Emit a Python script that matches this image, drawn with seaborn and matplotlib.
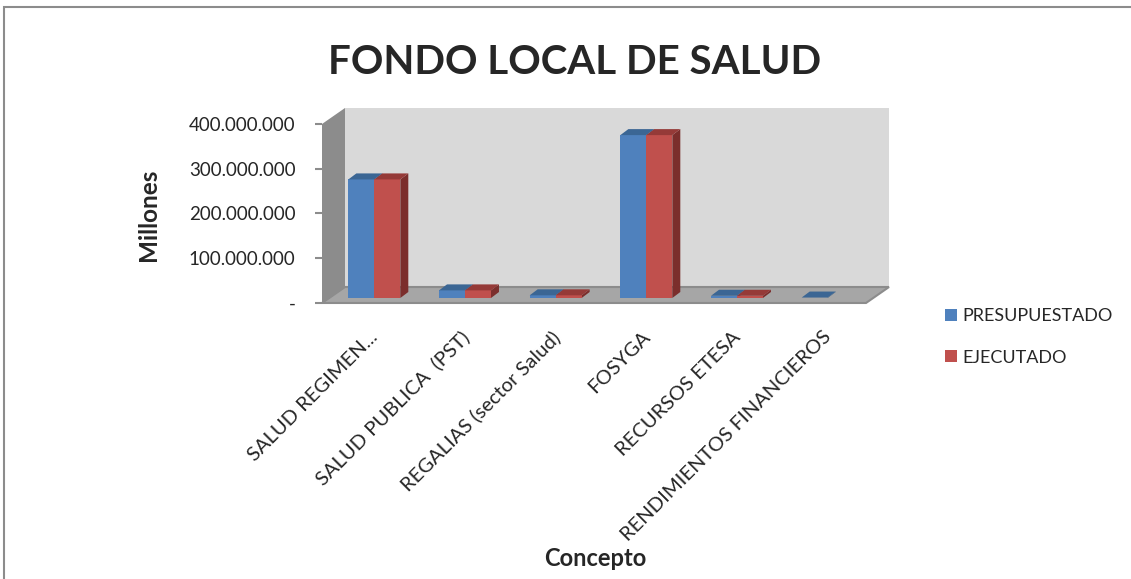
import matplotlib
matplotlib.use('Agg')
import matplotlib.pyplot as plt
import matplotlib.transforms as mtransforms
from matplotlib.patches import Polygon, Rectangle
import pandas as pd
import seaborn as sns

conceptos = ['SALUD REGIMEN...', 'SALUD PUBLICA  (PST)', 'REGALIAS (sector Salud)',
             'FOSYGA', 'RECURSOS ETESA', 'RENDIMIENTOS FINANCIEROS']
presupuestado = [265e6, 17e6, 6e6, 364e6, 5e6, 1e6]
ejecutado = [265e6, 17e6, 6e6, 364e6, 5e6, 0]
series = ['PRESUPUESTADO', 'EJECUTADO']
colores = ['#4f81bd', '#c0504d']
caras_top = ['#3b6694', '#953a38']
caras_lado = ['#2f5580', '#7b2e2c']
y_ticks = [0, 100e6, 200e6, 300e6, 400e6]
y_tick_labels = ['-', '100.000.000', '200.000.000', '300.000.000', '400.000.000']

df = pd.DataFrame({
    'Concepto': conceptos * 2,
    'valor': presupuestado + ejecutado,
    'serie': [series[0]] * len(conceptos) + [series[1]] * len(conceptos),
})

sns.set_style('white')
plt.rcParams['font.family'] = ['Lato', 'DejaVu Sans']

W, H = 1131, 579
fig = plt.figure(figsize=(W / 100, H / 100), dpi=100)
ax = fig.add_axes([322 / W, 1 - 303 / H, 544 / W, 179 / H])
ax.set_facecolor('none')

sns.barplot(data=df, x='Concepto', y='valor', hue='serie', palette=colores,
            width=0.573, saturation=1, linewidth=0, edgecolor='none',
            ax=ax, zorder=3, legend=True)
ax.set_xlim(-0.5, len(conceptos) - 0.5)
ax.set_ylim(0, 400e6)
for s in ax.spines.values():
    s.set_visible(False)

# fake 3d: walls and floor, in pixels
ident = mtransforms.IdentityTransform()
DX, DY = 23, 16
(xl, y0), (xr, yt) = ax.transData.transform([(-0.5, 0), (len(conceptos) - 0.5, 400e6)])
back = Polygon([(xl + DX, y0 + DY), (xr + DX, y0 + DY), (xr + DX, yt + DY), (xl + DX, yt + DY)],
               closed=True, transform=ident, facecolor='#d9d9d9', edgecolor='none', zorder=0)
floor = Polygon([(xl, y0), (xr, y0), (xr + DX, y0 + DY), (xl + DX, y0 + DY)],
                closed=True, transform=ident, facecolor='#a6a6a6', edgecolor='#8c8c8c', lw=1.5, zorder=1)
side = Polygon([(xl, y0), (xl, yt), (xl + DX, yt + DY), (xl + DX, y0 + DY)],
               closed=True, transform=ident, facecolor='#8c8c8c', edgecolor='none', zorder=1)
for p in (back, floor, side):
    p.set_clip_on(False)
    ax.add_artist(p)

# bars sit a bit back from the front plane, plus top and side faces
SX, SY = 7, 5
BX, BY = 8, 6
shift = mtransforms.ScaledTranslation(SX / 100, SY / 100, fig.dpi_scale_trans)
for cont, ct, cl in zip(ax.containers, caras_top, caras_lado):
    for bar in cont:
        bar.set_transform(ax.transData + shift)
        bar.set_clip_on(False)
        (bx0, by0), (bx1, by1) = ax.transData.transform(
            [(bar.get_x(), 0), (bar.get_x() + bar.get_width(), bar.get_height())])
        bx0, bx1, by0, by1 = bx0 + SX, bx1 + SX, by0 + SY, by1 + SY
        if bar.get_height() <= 0:
            continue
        top = Polygon([(bx0, by1), (bx1, by1), (bx1 + BX, by1 + BY), (bx0 + BX, by1 + BY)],
                      closed=True, transform=ident, facecolor=ct, edgecolor='none', zorder=4)
        lado = Polygon([(bx1, by0), (bx1, by1), (bx1 + BX, by1 + BY), (bx1 + BX, by0 + BY)],
                       closed=True, transform=ident, facecolor=cl, edgecolor='none', zorder=2.5)
        for p in (top, lado):
            p.set_clip_on(False)
            ax.add_artist(p)

ax.set_yticks(y_ticks)
ax.set_yticklabels(y_tick_labels, fontsize=13.5)
ax.tick_params(axis='y', length=5, width=1.5, color='#8c8c8c', pad=14, left=True)
ax.set_xticks(range(len(conceptos)))
ax.set_xticklabels(conceptos, rotation=45, ha='right', va='top', rotation_mode='anchor', fontsize=14.5)
ax.tick_params(axis='x', length=0, pad=18)
for lbl in ax.get_xticklabels():
    lbl.set_transform(lbl.get_transform() + mtransforms.ScaledTranslation(2 / 100, 0, fig.dpi_scale_trans))

ax.set_xlabel('')
ax.set_ylabel('')
fig.text(595 / W, 1 - 558 / H, 'Concepto', ha='center', va='center', fontsize=17, fontweight='bold')
fig.text(149 / W, 1 - 215 / H, 'Millones', ha='center', va='center', rotation=90,
         fontsize=17.5, fontweight='bold')
fig.text(575 / W, 1 - 62 / H, 'FONDO LOCAL DE SALUD', ha='center', va='center',
         fontsize=29, fontweight='bold')

handles, labels = ax.get_legend_handles_labels()
ax.get_legend().remove()
fig.legend(handles, labels, loc='center left', bbox_to_anchor=(945 / W, 1 - 337 / H),
           frameon=False, fontsize=13, handlelength=0.65, handleheight=0.65,
           handletextpad=0.3, labelspacing=1.4, borderpad=0, borderaxespad=0)

fig.patches.append(Rectangle((4 / W, -0.02), 1.0, 1 - 7 / H + 0.02, transform=fig.transFigure,
                             fill=False, edgecolor='#8c8c8c', lw=1.5))

fig.savefig('out.png', dpi=100)
